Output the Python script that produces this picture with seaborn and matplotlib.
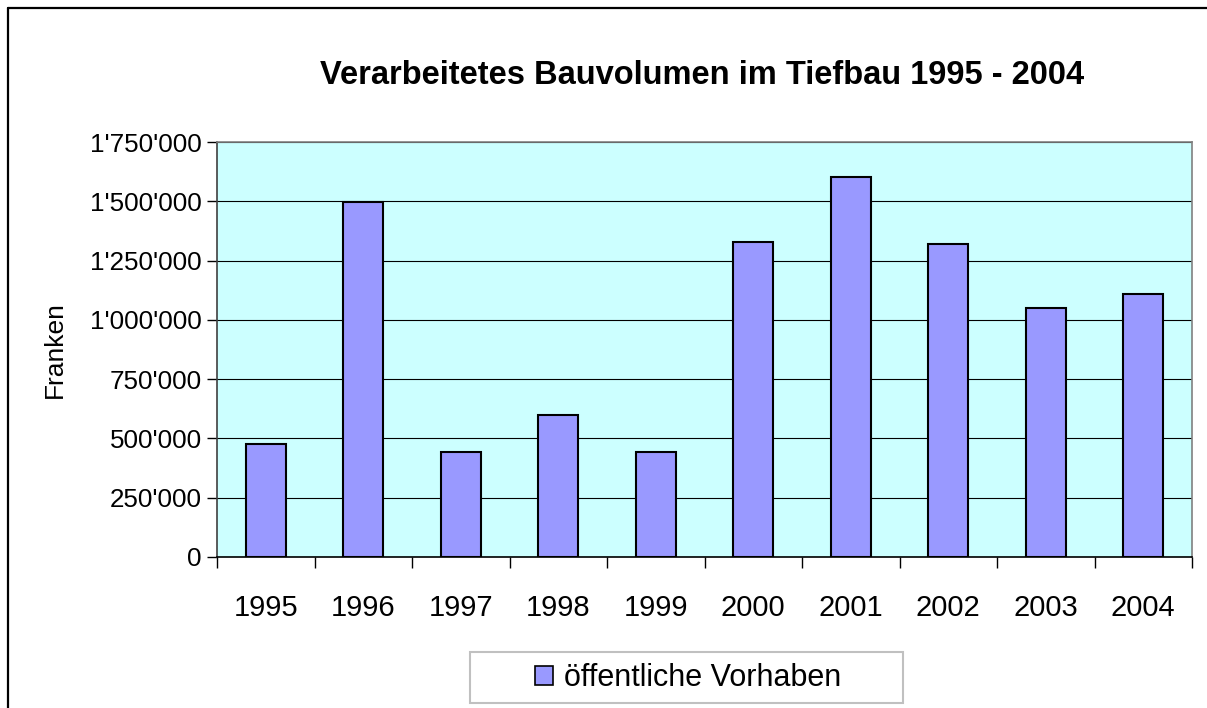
import matplotlib
matplotlib.use("Agg")
import matplotlib.pyplot as plt
import seaborn as sns
import pandas as pd
from matplotlib.ticker import FuncFormatter, FixedLocator
from matplotlib.patches import Rectangle, Patch
from matplotlib.lines import Line2D

years = ["1995", "1996", "1997", "1998", "1999", "2000", "2001", "2002", "2003", "2004"]
volumen = [478000, 1497000, 443000, 600000, 443000, 1329000, 1603000, 1320000, 1050000, 1109000]
y_ticks = [0, 250000, 500000, 750000, 1000000, 1250000, 1500000, 1750000]
series_name = "öffentliche Vorhaben"
title = "Verarbeitetes Bauvolumen im Tiefbau 1995 - 2004"

sns.set_style("white")
plt.rcParams['font.family'] = ['Liberation Sans', 'DejaVu Sans']
plt.rcParams['text.color'] = 'black'
plt.rcParams['axes.labelcolor'] = 'black'
plt.rcParams['xtick.color'] = 'black'
plt.rcParams['ytick.color'] = 'black'

df = pd.DataFrame({"Jahr": years, "Franken": volumen})

fig = plt.figure(figsize=(12.07, 7.08), dpi=100)
ax = fig.add_axes([217 / 1207, 1 - 557 / 708, (1192 - 217) / 1207, (557 - 142) / 708])
ax.set_facecolor("#CCFFFF")

sns.barplot(data=df, x="Jahr", y="Franken", color="#9999FF", edgecolor="black",
            linewidth=1.5, width=0.41, saturation=1, ax=ax, zorder=3)

ax.set_xlim(-0.5, len(years) - 0.5)
ax.set_ylim(0, 1750000)
ax.yaxis.set_major_locator(FixedLocator(y_ticks))
ax.yaxis.set_major_formatter(FuncFormatter(lambda v, p: f"{int(v):,}".replace(",", "'")))
ax.grid(axis="y", color="black", linewidth=0.8, zorder=1)
ax.set_axisbelow(True)

# Excel-style category ticks between the bars
ax.xaxis.set_minor_locator(FixedLocator([i - 0.5 for i in range(len(years) + 1)]))
ax.tick_params(axis="x", which="major", length=0, pad=27, labelsize=21)
ax.tick_params(axis="x", which="minor", length=8, width=1, color="black", direction="out", bottom=True)
ax.tick_params(axis="y", which="major", length=7, width=1, color="black", direction="out", left=True,
               labelsize=18.7, pad=4)

for side in ["top", "right"]:
    ax.spines[side].set_color("#808080")
    ax.spines[side].set_visible(True)
ax.spines["left"].set_color("#404040")
ax.spines["bottom"].set_color("black")
for s in ax.spines.values():
    s.set_linewidth(1.2)

ax.set_xlabel("")
ax.set_ylabel("Franken", fontsize=19)
ax.yaxis.set_label_coords((67 - 217) / 975, 0.5)

fig.text(702 / 1207, 1 - 76 / 708, title, ha="center", va="center", fontsize=23.5,
         fontweight="bold", color="black")

# legend
handle = Patch(facecolor="#9999FF", edgecolor="black", linewidth=1.2)
fig.legend([handle], [series_name], loc="center", bbox_to_anchor=(688 / 1207, 1 - 678 / 708),
           frameon=False, fontsize=22, handlelength=0.6, handleheight=0.6, handletextpad=0.35,
           labelcolor="black")
fig.patches.append(Rectangle((470 / 1207, 1 - 703 / 708), (903 - 470) / 1207, 51 / 708,
                             transform=fig.transFigure, facecolor="none", edgecolor="#C0C0C0",
                             linewidth=1.5))

# chart area border
fig.lines.append(Line2D([7.5 / 1207, 7.5 / 1207], [0, 1 - 8 / 708], transform=fig.transFigure,
                        color="black", linewidth=1.6))
fig.lines.append(Line2D([7.5 / 1207, 1], [1 - 8 / 708, 1 - 8 / 708], transform=fig.transFigure,
                        color="black", linewidth=1.6))

fig.savefig("out.png", dpi=100, facecolor="white")
